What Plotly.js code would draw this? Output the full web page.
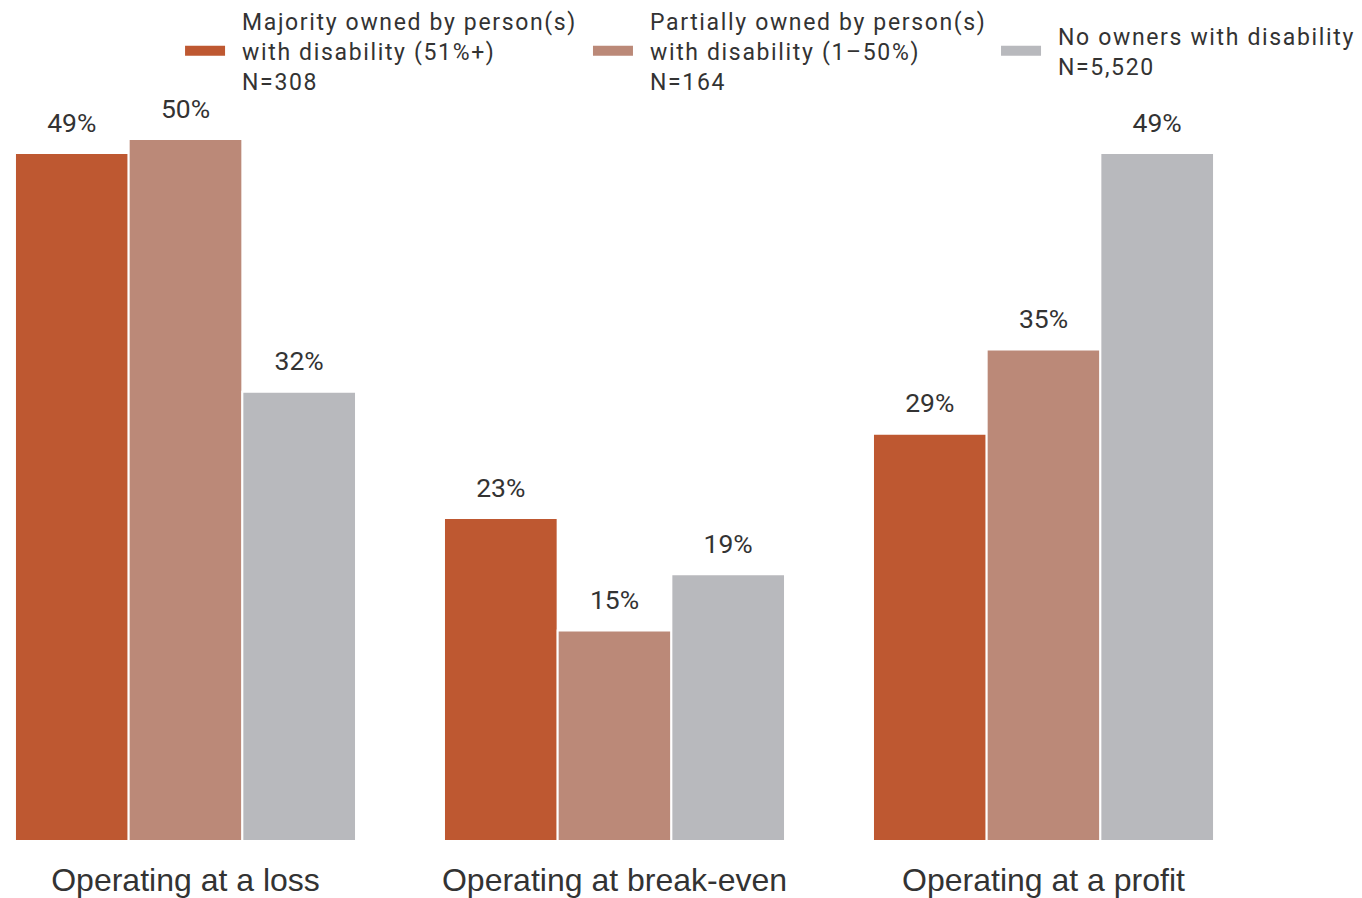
<!DOCTYPE html>
<html>
<head>
<meta charset="utf-8">
<script src="https://cdn.plot.ly/plotly-3.0.1.min.js"></script>
<style>
html,body{margin:0;padding:0;background:#fff;}
#chart{width:1362px;height:898px;}
text.legendtext, .infolayer text{letter-spacing:1.65px;}
.infolayer .scrollbox{clip-path:none !important;}
</style>
</head>
<body>
<div id="chart"></div>
<script>
const categories = ["Operating at a loss", "Operating at break-even", "Operating at a profit"];
const seriesNames = [
  "Majority owned by person(s)<br>with disability (51%+)<br>N=308",
  "Partially owned by person(s)<br>with disability (1\u201350%)<br>N=164",
  "No owners with disability<br>N=5,520"
];
const majorityOwned = [49, 23, 29];
const partiallyOwned = [50, 15, 35];
const noOwners = [32, 19, 49];
const colors = ["#BE5831", "#BB8978", "#B8B9BD"];
const legendIds = ["legend", "legend2", "legend3"];

const series = [majorityOwned, partiallyOwned, noOwners];
const traces = [];
series.forEach((vals, i) => {
  traces.push({
    type: "bar", x: categories, y: vals, name: seriesNames[i],
    marker: {color: colors[i], line: {color: "#ffffff", width: 2}},
    offsetgroup: "g" + i,
    showlegend: false, hoverinfo: "skip", legendgroup: "g" + i
  });
});
series.forEach((vals, i) => {
  traces.push({
    type: "scatter", mode: "markers+text", x: categories, y: vals,
    text: vals.map(v => v + "%"), textposition: "top center",
    textfont: {family: "Roboto", size: 26.5, color: "#333333"},
    marker: {size: 22, color: "rgba(0,0,0,0)"},
    offsetgroup: "g" + i, showlegend: false, hoverinfo: "skip", cliponaxis: false
  });
});
series.forEach((vals, i) => {
  traces.push({
    type: "scatter", mode: "lines", x: [categories[0]], y: [null],
    name: seriesNames[i], line: {color: colors[i], width: 12, dash: "40px,100px"},
    offsetgroup: "g" + i, legendgroup: "g" + i, legend: legendIds[i], hoverinfo: "skip"
  });
});

function legendStyle(xPos) {
  return {
    orientation: "v", x: xPos, xanchor: "left", y: 0.9394, yanchor: "middle",
    itemwidth: 52,
    font: {family: "Roboto", size: 23, color: "#333333"},
    bgcolor: "rgba(0,0,0,0)"
  };
}

const layout = {
  width: 1362, height: 898,
  margin: {l: 0, r: 0, t: 0, b: 57, autoexpand: false},
  paper_bgcolor: "#ffffff", plot_bgcolor: "#ffffff",
  barmode: "group", bargap: 0.205, bargroupgap: 0,
  scattermode: "group", scattergap: 0.205,
  showlegend: true,
  legend: legendStyle(0.1322),
  legend2: legendStyle(0.4317),
  legend3: legendStyle(0.7313),
  xaxis: {
    type: "category", range: [-0.4324, 2.7424], automargin: false,
    showgrid: false, zeroline: false, showline: false, ticks: "",
    ticklabelstandoff: 17,
    tickfont: {family: "Liberation Sans, Arial, sans-serif", size: 32, color: "#333333"}
  },
  yaxis: {range: [0, 59.9], visible: false, showgrid: false, zeroline: false},
  font: {family: "Roboto", color: "#333333"}
};

Plotly.newPlot("chart", traces, layout, {displayModeBar: false, staticPlot: true});
</script>
</body>
</html>
